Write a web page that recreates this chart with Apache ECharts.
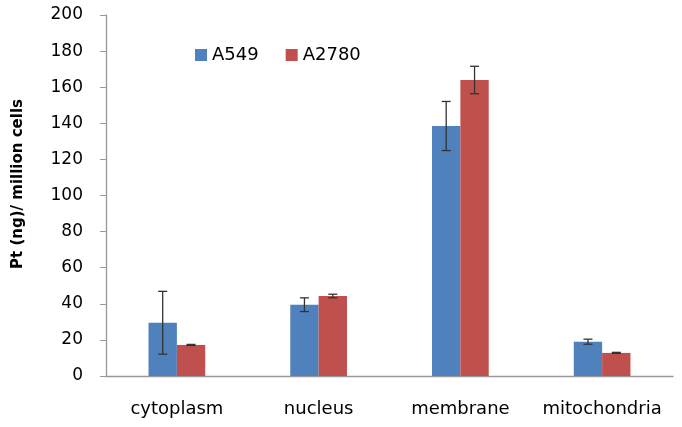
<!DOCTYPE html>
<html>
<head>
<meta charset="utf-8">
<script src="https://cdn.jsdelivr.net/npm/echarts@6/dist/echarts.min.js"></script>
<style>html,body{margin:0;padding:0;background:#fff;}#c{width:682px;height:427px;}</style>
</head>
<body>
<div id="c"></div>
<script>
var categories = ['cytoplasm', 'nucleus', 'membrane', 'mitochondria'];
var a549 = [29.5, 39.5, 138.5, 19];
var a549Err = [17.4, 3.8, 13.6, 1.4];
var a2780 = [17.2, 44.3, 164, 12.8];
var a2780Err = [0.3, 1.0, 7.6, 0.3];
var yTicks = [0, 20, 40, 60, 80, 100, 120, 140, 160, 180, 200];

var FONT = 'DejaVu Sans';
var chart = echarts.init(document.getElementById('c'));

function errSeries(vals, errs, side) {
  return {
    type: 'custom',
    silent: true,
    z: 5,
    data: vals.map(function (v, i) { return [i, v - errs[i], v + errs[i]]; }),
    renderItem: function (params, api) {
      var i = api.value(0);
      var lo = api.coord([i, api.value(1)]);
      var hi = api.coord([i, api.value(2)]);
      var band = api.size([1, 0])[0];
      var x = lo[0] + side * band * 0.1;
      var cap = 4.5;
      var style = { stroke: '#333', lineWidth: 1.3 };
      return {
        type: 'group',
        children: [
          { type: 'line', shape: { x1: x, y1: lo[1], x2: x, y2: hi[1] }, style: style },
          { type: 'line', shape: { x1: x - cap, y1: lo[1], x2: x + cap, y2: lo[1] }, style: style },
          { type: 'line', shape: { x1: x - cap, y1: hi[1], x2: x + cap, y2: hi[1] }, style: style }
        ]
      };
    }
  };
}

chart.setOption({
  animation: false,
  grid: { left: 106, right: 9, top: 15, bottom: 51 },
  legend: {
    data: ['A549', 'A2780'],
    left: 190, top: 41,
    itemWidth: 12, itemHeight: 12, itemGap: 27,
    icon: 'rect',
    textStyle: { fontFamily: FONT, fontSize: 18, color: '#000' }
  },
  xAxis: {
    type: 'category',
    data: categories,
    axisLine: { lineStyle: { color: '#999', width: 1.3 } },
    axisTick: { show: false },
    axisLabel: { fontFamily: FONT, fontSize: 18, color: '#000', margin: 24, interval: 0 }
  },
  yAxis: {
    type: 'value',
    min: yTicks[0], max: yTicks[yTicks.length - 1], interval: 20,
    name: 'Pt (ng)/ million cells',
    nameLocation: 'middle',
    nameGap: 80,
    nameTextStyle: { fontFamily: FONT, fontSize: 15, fontWeight: 'bold', color: '#000', padding: [0, 0, 0, 23] },
    axisLine: { show: true, lineStyle: { color: '#999', width: 1.3 } },
    axisTick: { show: true, length: 6, lineStyle: { color: '#999' } },
    splitLine: { show: false },
    axisLabel: { fontFamily: FONT, fontSize: 17, color: '#000', margin: 23 }
  },
  series: [
    { name: 'A549', type: 'bar', data: a549, barWidth: '20%', barGap: '0%', itemStyle: { color: '#4F81BD' } },
    { name: 'A2780', type: 'bar', data: a2780, barWidth: '20%', barGap: '0%', itemStyle: { color: '#C0504D' } },
    errSeries(a549, a549Err, -1),
    errSeries(a2780, a2780Err, 1)
  ]
});
</script>
</body>
</html>
